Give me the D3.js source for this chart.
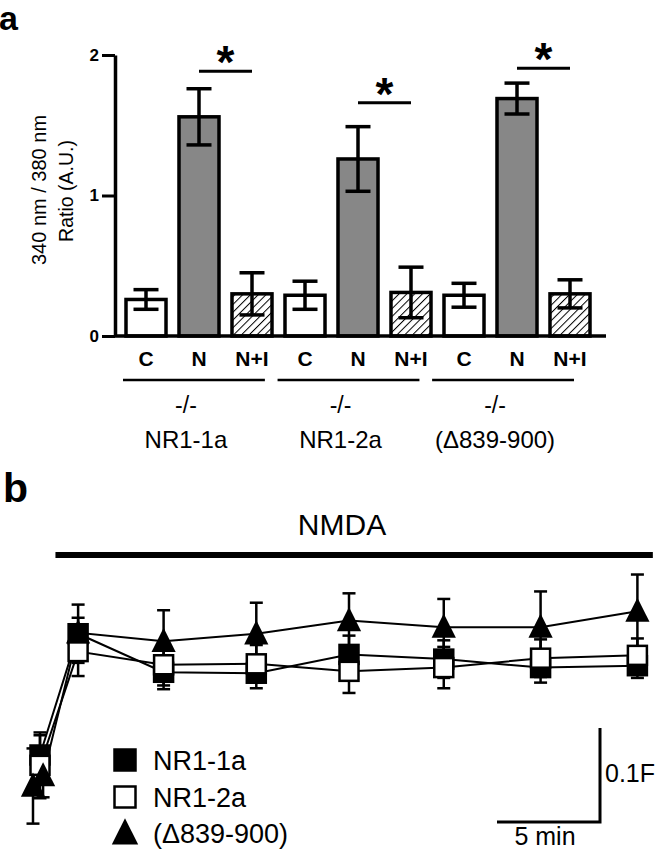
<!DOCTYPE html>
<html><head><meta charset="utf-8">
<script src="https://cdn.jsdelivr.net/npm/d3@7"></script>
<style>
html,body{margin:0;padding:0;background:#fff;}
svg{display:block;font-family:"Liberation Sans",Arial,sans-serif;}
</style></head><body>
<svg id="c" width="656" height="852"></svg>
<script>
// ---------- Panel a data ----------
const genotypes   = ["NR1-1a", "NR1-2a", "(\u0394839-900)"];
const conditions  = ["C", "N", "N+I"];
const meanControl = [0.26, 0.29, 0.29];
const semControl  = [0.07, 0.10, 0.085];
const meanNMDA    = [1.56, 1.26, 1.69];
const semNMDA     = [0.20, 0.23, 0.11];
const meanNMDAInh = [0.30, 0.31, 0.30];
const semNMDAInh  = [0.15, 0.18, 0.10];
const sigLevel    = [1.885, 1.66, 1.905];
const yTicksA     = [0, 1, 2];

// ---------- Panel b data ----------
const timeMin  = [0, 1.85, 6, 10.5, 15, 19.6, 24.3, 29];
const dF_11a   = [0, 0.129, 0.088, 0.087, 0.107, 0.102, 0.093, 0.095];
const err_11a  = [0.021, 0.031, 0.018, 0.016, 0.02, 0.02, 0.016, 0.013];
const dF_12a   = [-0.011, 0.110, 0.096, 0.097, 0.089, 0.093, 0.103, 0.106];
const err_12a  = [0.035, 0.026, 0.022, 0.02, 0.023, 0.022, 0.02, 0.018];
const timeDel  = [-0.34, 0.15, 1.85, 6, 10.5, 15, 19.6, 24.3, 29];
const dF_del   = [-0.033, -0.022, 0.130, 0.121, 0.129, 0.143, 0.136, 0.136, 0.153];
const err_del  = [0.04, 0.023, 0.016, 0.033, 0.033, 0.029, 0.030, 0.038, 0.039];
const nmdaPeriod = [0.75, 29.75];
const scaleBarTime = 5, scaleBarF = 0.1;

const svg = d3.select("#c");
const defs = svg.append("defs");
const pat = defs.append("pattern").attr("id","hatch").attr("patternUnits","userSpaceOnUse")
  .attr("width",5.5).attr("height",5.5).attr("patternTransform","rotate(45)");
pat.append("rect").attr("width",5.5).attr("height",5.5).attr("fill","#fff");
pat.append("line").attr("x1",0).attr("y1",0).attr("x2",0).attr("y2",5.5)
  .attr("stroke","#000").attr("stroke-width",2);

// ---------- Panel a ----------
const rows = [];
genotypes.forEach((g,i)=>{
  rows.push({g, c:"C",   key:g+"|C",   m:meanControl[i], e:semControl[i], fill:"#fff"});
  rows.push({g, c:"N",   key:g+"|N",   m:meanNMDA[i],    e:semNMDA[i],    fill:"#878787"});
  rows.push({g, c:"N+I", key:g+"|N+I", m:meanNMDAInh[i], e:semNMDAInh[i], fill:"url(#hatch)"});
});
const xA = d3.scaleBand().domain(rows.map(d=>d.key)).range([119.5, 596.5])
  .paddingInner(0.245).paddingOuter(0.1225);
const yA = d3.scaleLinear().domain([0,2]).range([336,55]);
const cx = k => xA(k) + xA.bandwidth()/2;

svg.append("text").attr("x",-1).attr("y",30).attr("font-weight","bold")
  .attr("font-size",34).text("a");

const gA = svg.append("g");
gA.selectAll("rect.bar").data(rows).join("rect").attr("class","bar")
  .attr("x",d=>xA(d.key)).attr("y",d=>yA(d.m))
  .attr("width",xA.bandwidth()).attr("height",d=>yA(0)-yA(d.m))
  .attr("fill",d=>d.fill).attr("stroke","#000").attr("stroke-width",3.5);

// baseline
gA.append("line").attr("x1",115).attr("x2",606).attr("y1",yA(0)).attr("y2",yA(0))
  .attr("stroke","#000").attr("stroke-width",3.5);

const yAxis = d3.axisLeft(yA).tickValues(yTicksA).tickSize(13).tickSizeOuter(0)
  .tickPadding(3).tickFormat(d3.format("d"));
const ax = gA.append("g").attr("transform","translate(115,0)").call(yAxis);
ax.select(".domain").attr("stroke-width",3.5);
ax.selectAll(".tick line").attr("stroke-width",3);
ax.selectAll(".tick text").attr("font-size",17).attr("font-weight","bold")
  .attr("font-family","Liberation Sans, Arial, sans-serif").attr("fill","#000");

// error bars
const eb = gA.selectAll("g.eb").data(rows).join("g").attr("class","eb")
  .attr("stroke","#000").attr("stroke-width",3.5);
eb.append("line").attr("x1",d=>cx(d.key)).attr("x2",d=>cx(d.key))
  .attr("y1",d=>yA(d.m+d.e)).attr("y2",d=>yA(d.m-d.e));
eb.append("line").attr("x1",d=>cx(d.key)-12.5).attr("x2",d=>cx(d.key)+12.5)
  .attr("y1",d=>yA(d.m+d.e)).attr("y2",d=>yA(d.m+d.e));
eb.append("line").attr("x1",d=>cx(d.key)-12.5).attr("x2",d=>cx(d.key)+12.5)
  .attr("y1",d=>yA(d.m-d.e)).attr("y2",d=>yA(d.m-d.e));

// significance
genotypes.forEach((g,i)=>{
  const x1 = cx(g+"|N"), x2 = cx(g+"|N+I"), y = yA(sigLevel[i]);
  gA.append("line").attr("x1",x1).attr("x2",x2).attr("y1",y).attr("y2",y)
    .attr("stroke","#000").attr("stroke-width",3);
  gA.append("text").attr("x",(x1+x2)/2).attr("y",y+7).attr("text-anchor","middle")
    .attr("font-weight","bold").attr("font-size",46).text("*");
});

// category labels
gA.selectAll("text.cat").data(rows).join("text").attr("class","cat")
  .attr("x",d=>cx(d.key)).attr("y",366).attr("text-anchor","middle")
  .attr("font-weight","bold").attr("font-size",21).text(d=>d.c);

// genotype labels
const xG = d3.scaleBand().domain(genotypes).range([123,574]).paddingInner(0.082);
genotypes.forEach(g=>{
  const c = xG(g) + xG.bandwidth()/2;
  gA.append("line").attr("x1",xG(g)).attr("x2",xG(g)+xG.bandwidth())
    .attr("y1",380).attr("y2",380).attr("stroke","#000").attr("stroke-width",2.5);
  gA.append("text").attr("x",c-8).attr("y",413).attr("text-anchor","middle")
    .attr("font-size",23).text("-/-");
  gA.append("text").attr("x",c-8).attr("y",448).attr("text-anchor","middle")
    .attr("font-size",24).text(g);
});

// y label
gA.append("text").attr("transform","translate(46,190) rotate(-90)")
  .attr("text-anchor","middle").attr("font-size",20).text("340 nm / 380 nm");
gA.append("text").attr("transform","translate(73,191) rotate(-90)")
  .attr("text-anchor","middle").attr("font-size",19.5).text("Ratio (A.U.)");

// ---------- Panel b ----------
svg.append("text").attr("x",3).attr("y",502).attr("font-weight","bold")
  .attr("font-size",41).text("b");

const xB = d3.scaleLinear().domain([0,5]).range([40,143]);
const yB = d3.scaleLinear().domain([0,0.1]).range([755,661]);
const gB = svg.append("g");

gB.append("line").attr("x1",xB(nmdaPeriod[0])).attr("x2",xB(nmdaPeriod[1]))
  .attr("y1",555).attr("y2",555).attr("stroke","#000").attr("stroke-width",6);
gB.append("text").attr("x",342).attr("y",535).attr("text-anchor","middle")
  .attr("font-size",30).text("NMDA");

const series = [
  {name:"NR1-1a", t:timeMin, v:dF_11a, e:err_11a, shape:"sq", fill:"#000"},
  {name:"NR1-2a", t:timeMin, v:dF_12a, e:err_12a, shape:"sq", fill:"#fff"},
  {name:"(\u0394839-900)", t:timeDel, v:dF_del, e:err_del, shape:"tri", fill:"#000"}
];
const pts = s => s.t.map((t,i)=>({t, v:s.v[i], e:s.e[i]}));
const line = d3.line().x(d=>xB(d.t)).y(d=>yB(d.v));

series.forEach(s=>{
  gB.append("path").datum(pts(s)).attr("d",line).attr("fill","none")
    .attr("stroke","#000").attr("stroke-width",2);
});
series.forEach(s=>{
  const g = gB.append("g").attr("stroke","#000").attr("stroke-width",2.5);
  pts(s).forEach(d=>{
    const x = xB(d.t), y1 = yB(d.v+d.e), y2 = yB(d.v-d.e);
    g.append("line").attr("x1",x).attr("x2",x).attr("y1",y1).attr("y2",y2);
    g.append("line").attr("x1",x-6.5).attr("x2",x+6.5).attr("y1",y1).attr("y2",y1);
    g.append("line").attr("x1",x-6.5).attr("x2",x+6.5).attr("y1",y2).attr("y2",y2);
  });
});
function marker(g, shape, fill, x, y, size){
  if(shape==="sq"){
    g.append("rect").attr("x",x-size/2).attr("y",y-size/2).attr("width",size).attr("height",size)
      .attr("fill",fill).attr("stroke","#000").attr("stroke-width",2.5);
  } else {
    const h = size*1.1;
    g.append("path").attr("d",`M${x},${y-h*0.56}L${x+size*0.55},${y+h*0.44}L${x-size*0.55},${y+h*0.44}Z`)
      .attr("fill",fill).attr("stroke","none");
  }
}
series.forEach(s=>{
  const g = gB.append("g");
  pts(s).forEach(d=>marker(g, s.shape, s.fill, xB(d.t), yB(d.v), s.shape==="sq"?19:22));
});

// legend
const legY = [770, 807, 843];
series.forEach((s,i)=>{
  marker(gB, s.shape, s.fill, 125, legY[i]-10, s.shape==="sq"?21:24);
  gB.append("text").attr("x",153).attr("y",legY[i]).attr("font-size",27).text(s.name);
});

// scale bar
const sbW = xB(scaleBarTime)-xB(0), sbH = yB(0)-yB(scaleBarF);
gB.append("path").attr("d",`M${600-sbW},822H600V${822-sbH}`).attr("fill","none")
  .attr("stroke","#000").attr("stroke-width",3);
gB.append("text").attr("x",605).attr("y",782).attr("font-size",25).text("0.1F");
gB.append("text").attr("x",545).attr("y",845).attr("text-anchor","middle")
  .attr("font-size",25).text("5 min");
</script>
</body></html>
